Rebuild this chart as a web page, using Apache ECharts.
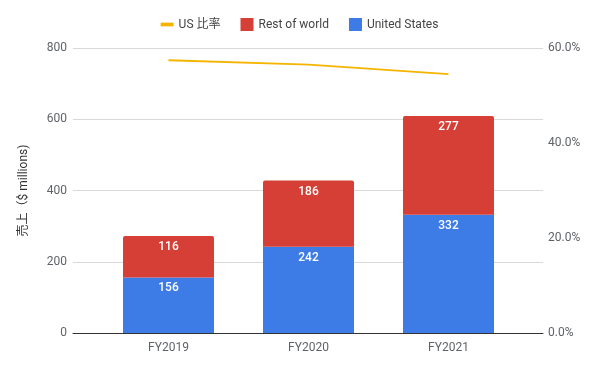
<!DOCTYPE html>
<html><head><meta charset="utf-8">
<script src="https://cdn.jsdelivr.net/npm/echarts@6/dist/echarts.min.js"></script>
<style>html,body{margin:0;padding:0;background:#fff}#c{width:599px;height:369px}</style>
</head><body><div id="c"></div>
<script>
const categories = ['FY2019', 'FY2020', 'FY2021'];
const usValues = [156, 242, 332];
const rowValues = [116, 186, 277];
const usRatio = [0.574, 0.565, 0.545];
const leftTicks = [0, 200, 400, 600, 800];
const rightTicks = [0, 0.2, 0.4, 0.6];

const font = 'Roboto, "Noto Sans CJK JP", sans-serif';
const gray = '#5f6368';
const chart = echarts.init(document.getElementById('c'));
const barLabel = { show: true, position: 'insideTop', distance: 5, color: '#fff', fontSize: 12, fontWeight: 500, fontFamily: font };
chart.setOption({
  animation: false,
  textStyle: { fontFamily: font },
  legend: {
    top: 13, left: 'center', itemGap: 20, itemWidth: 13, itemHeight: 13,
    textStyle: { color: '#444', fontSize: 12, fontFamily: font },
    data: [
      { name: 'US 比率', icon: 'path://M0,5H14V9H0Z' },
      { name: 'Rest of world', icon: 'rect' },
      { name: 'United States', icon: 'rect' }
    ]
  },
  grid: [
    { left: 73, right: 56, top: 48, bottom: 36 },
    { left: 98.5, right: 80.5, top: 48, bottom: 36 }
  ],
  xAxis: [
    { gridIndex: 0, type: 'value', min: 0, max: 1, axisLabel: { show: false }, axisTick: { show: false },
      splitLine: { show: false }, axisLine: { show: true, lineStyle: { color: '#333', width: 1 } } },
    { gridIndex: 1, type: 'category', data: categories, axisLine: { show: false }, axisTick: { show: false },
      axisLabel: { color: gray, fontSize: 12, margin: 9, fontFamily: font } }
  ],
  yAxis: [
    { gridIndex: 0, type: 'value', min: leftTicks[0], max: leftTicks[leftTicks.length - 1], interval: 200,
      name: '売上（$ millions)', nameLocation: 'middle', nameGap: 43, nameRotate: 90,
      nameTextStyle: { color: '#333', fontSize: 12, fontFamily: font },
      axisLine: { show: false }, axisTick: { show: false },
      axisLabel: { color: gray, fontSize: 12, margin: 6, fontFamily: font },
      splitLine: { show: true, lineStyle: { color: '#d9d9d9' } } },
    { gridIndex: 0, type: 'value', position: 'right', min: rightTicks[0], max: rightTicks[rightTicks.length - 1], interval: 0.2,
      axisLine: { show: false }, axisTick: { show: false }, splitLine: { show: false },
      axisLabel: { color: gray, fontSize: 12, margin: 5, fontFamily: font,
        formatter: v => (v * 100).toFixed(1) + '%' } },
    { gridIndex: 1, type: 'value', min: 0, max: 800, show: false },
    { gridIndex: 1, type: 'value', min: 0, max: 0.6, show: false }
  ],
  series: [
    { name: 'United States', type: 'bar', stack: 's', xAxisIndex: 1, yAxisIndex: 2, data: usValues,
      barWidth: 91, itemStyle: { color: '#3d7be7' }, label: barLabel },
    { name: 'Rest of world', type: 'bar', stack: 's', xAxisIndex: 1, yAxisIndex: 2, data: rowValues,
      barWidth: 91, itemStyle: { color: '#d63f36', borderRadius: [2, 2, 0, 0] }, label: barLabel },
    { name: 'US 比率', type: 'line', xAxisIndex: 1, yAxisIndex: 3, data: usRatio, z: 5,
      symbol: 'none', showSymbol: false, itemStyle: { color: '#f4b400' },
      lineStyle: { color: '#f4b400', width: 2 } }
  ]
});
</script></body></html>
